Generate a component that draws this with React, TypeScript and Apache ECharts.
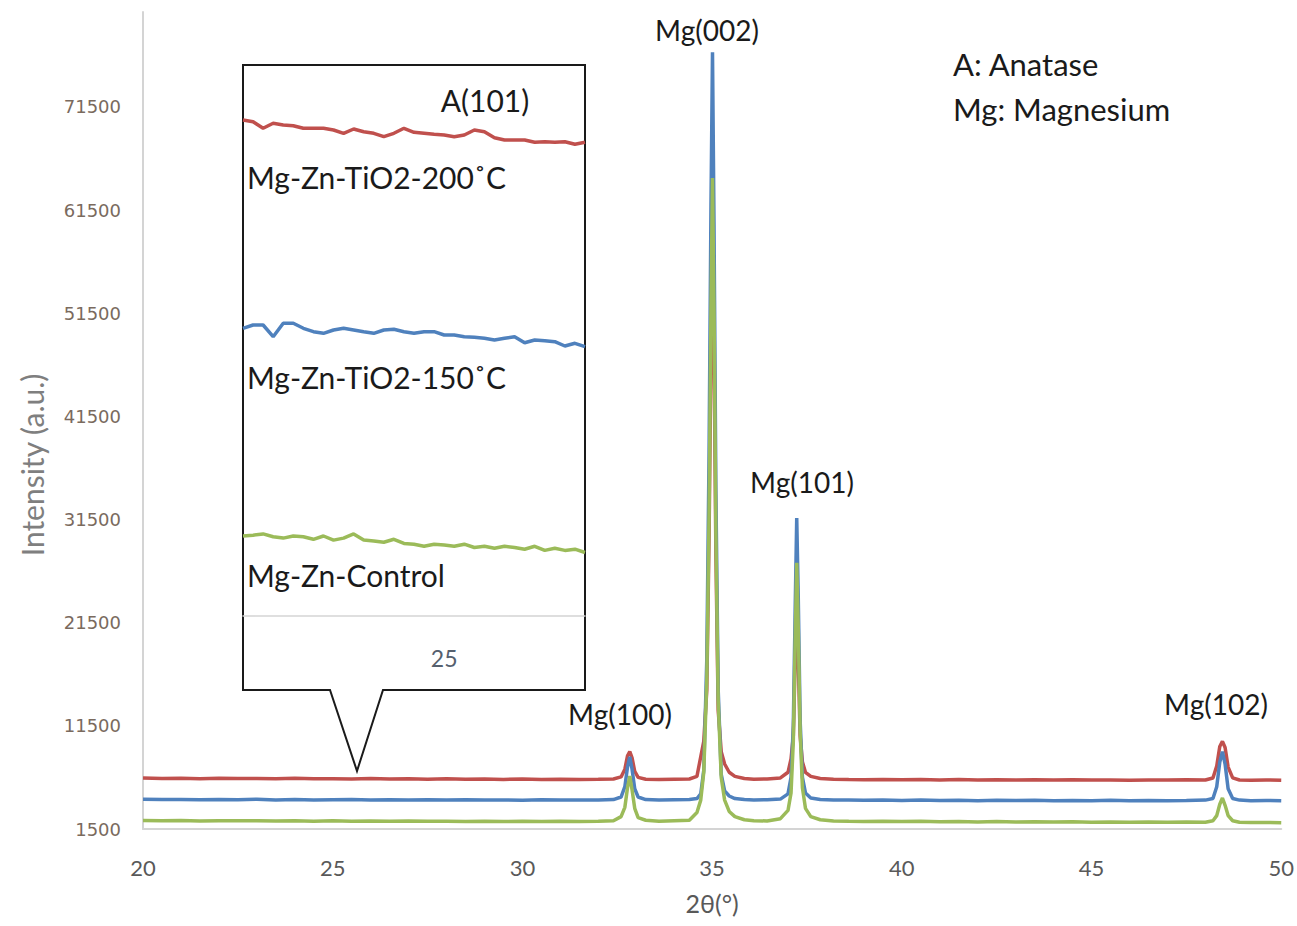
import React, { useEffect, useRef } from "react";
import * as echarts from "echarts";

// ---- main pattern (2θ in degrees, intensity a.u.) ----
const theta = [
  20, 20.5, 21, 21.5, 22, 22.5, 23, 23.5, 24, 24.5, 25, 25.5, 26, 26.5, 27, 27.5, 28, 28.5, 29, 29.5, 30, 30.5, 31, 31.5, 32,
  32.4, 32.6, 32.7, 32.77, 32.83, 32.89, 32.96, 33.05, 33.25,
  33.6, 34.0,
  34.4, 34.6, 34.7, 34.78, 34.86, 34.92, 34.97, 35.01, 35.05, 35.1, 35.16, 35.24, 35.33, 35.45, 35.6, 35.85,
  36.1, 36.45,
  36.8, 37.0, 37.08, 37.14, 37.19, 37.23, 37.27, 37.32, 37.38, 37.46, 37.6, 37.85,
  38.2, 38.6, 39, 39.5, 40, 40.5, 41, 41.5, 42, 42.5, 43, 43.5, 44, 44.5, 45, 45.5, 46, 46.5, 47, 47.5,
  48.0, 48.2, 48.3, 48.38, 48.45, 48.52, 48.6, 48.72, 48.9,
  49.2, 49.6, 50,
];

const red200 = [
  6450, 6400, 6430, 6380, 6420, 6390, 6400, 6370, 6410, 6360, 6380, 6350, 6390, 6340, 6360, 6330, 6370, 6320, 6350, 6310, 6340, 6300, 6330, 6300, 6320,
  6350, 6550, 7300, 8600, 9000, 8400, 7100, 6500, 6320,
  6300, 6330,
  6350, 6600, 8500, 10000, 15000, 30000, 48000, 58000, 48000, 28000, 13000, 9000, 7800, 7000, 6600, 6400,
  6320, 6350,
  6450, 7000, 8300, 10500, 18000, 23000, 18000, 10500, 8000, 7000, 6600, 6400,
  6330, 6300, 6280, 6310, 6270, 6300, 6260, 6290, 6250, 6280, 6240, 6270, 6250, 6280, 6240, 6260, 6230, 6260, 6240, 6270,
  6250, 6450, 7600, 9500, 10000, 9400, 7500, 6450, 6250,
  6230, 6250, 6220,
];

const blue150 = [
  4380, 4350, 4370, 4330, 4360, 4340, 4380, 4320, 4350, 4310, 4340, 4360, 4320, 4340, 4300, 4330, 4310, 4340, 4300, 4320, 4290, 4330, 4300, 4310, 4320,
  4350, 4600, 5600, 7500, 8500, 7300, 5400, 4600, 4350,
  4320, 4340,
  4350, 4450, 4900, 7200, 18000, 38000, 62000, 76800, 60000, 34000, 15000, 6800, 5200, 4700, 4450, 4350,
  4320, 4340,
  4400, 4900, 6500, 11500, 23000, 31650, 24000, 12000, 6500, 5000, 4500, 4350,
  4320, 4300, 4280, 4310, 4270, 4300, 4260, 4290, 4250, 4280, 4260, 4290, 4250, 4270, 4240, 4280, 4250, 4270, 4240, 4260,
  4300, 4450, 5600, 8000, 9000, 7800, 5400, 4450, 4300,
  4250, 4270, 4240,
];

const greenControl = [
  2320, 2300, 2330, 2280, 2310, 2290, 2300, 2270, 2300, 2260, 2290, 2250, 2280, 2240, 2270, 2250, 2260, 2230, 2260, 2220, 2250, 2230, 2240, 2220, 2250,
  2300, 2700, 3600, 5500, 6640, 5300, 3500, 2600, 2350,
  2250, 2300,
  2350, 3100, 4300, 7000, 16000, 32000, 52000, 64600, 52000, 30000, 14000, 6500, 4300, 3200, 2700, 2400,
  2300, 2280,
  2500, 3300, 5000, 10000, 20000, 27300, 21000, 11000, 5500, 3500, 2700, 2400,
  2280, 2250, 2230, 2260, 2220, 2240, 2200, 2230, 2190, 2220, 2180, 2210, 2170, 2200, 2160, 2190, 2150, 2180, 2150, 2170,
  2150, 2300, 2800, 3900, 4500, 3800, 2800, 2300, 2150,
  2120, 2140, 2100,
];

const yTicks = { min: 1500, max: 80700, interval: 10000 };
const xTicks = { min: 20, max: 50, interval: 5 };

// ---- inset: zoom around the anatase A(101) position ----
const insetTheta = [
  24.4, 24.43, 24.46, 24.49, 24.52, 24.55, 24.58, 24.61, 24.64, 24.67, 24.7, 24.73, 24.76, 24.79, 24.82, 24.85, 24.88,
  24.91, 24.94, 24.97, 25.0, 25.03, 25.06, 25.09, 25.12, 25.15, 25.18, 25.21, 25.24, 25.27, 25.3, 25.33, 25.36, 25.39, 25.42,
];
const insetRed = [
  496, 494.3, 487.7, 492.7, 491, 490.3, 487.7, 487.7, 487.7, 486, 482.7, 487, 484.3, 482.7, 479.3, 482.7, 487.7,
  483.7, 482.7, 481.7, 481, 479.3, 481, 486, 484.3, 478.3, 476, 476, 476, 473.7, 474.3, 473.7, 474.3, 471.7, 473.7,
];
const insetBlue = [
  287.7, 291, 291, 279.3, 292.7, 292.7, 287.7, 284.3, 282.7, 286, 287.7, 286, 284.3, 282.7, 286, 286.7, 284.3,
  282.7, 284.3, 284.3, 281, 281, 279.3, 278.7, 277.7, 276, 277.7, 279.3, 273.3, 276, 275.3, 274.3, 270, 272.7, 269.3,
];
const insetGreen = [
  80, 80.8, 82.1, 79.2, 77.9, 80, 79.2, 76.7, 80, 75.9, 77.9, 82.1, 75.9, 75.1, 73.8, 76.7, 72.6,
  71.8, 69.7, 71.8, 70.9, 69.7, 71.8, 68.5, 69.7, 67.7, 69.7, 68.5, 66.8, 69.7, 65.6, 67.7, 65.6, 66.8, 63.5,
];

const seriesNames = ["Mg-Zn-TiO2-200˚C", "Mg-Zn-TiO2-150˚C", "Mg-Zn-Control"];
const colors = ["#C0504D", "#4F81BD", "#9BBB59"];
const peakLabels = ["Mg(100)", "Mg(002)", "Mg(101)", "Mg(102)"];
const legendLines = ["A: Anatase", "Mg: Magnesium"];

const FONT = 'Lato, "Open Sans", "Noto Sans", sans-serif';
const INK = "#1a1a1a";

export default function App() {
  const ref = useRef<HTMLDivElement>(null);

  useEffect(() => {
    document.body.style.margin = "0";
    if (!ref.current) return;
    const chart = echarts.init(ref.current, null, { renderer: "svg" });

    const mainData = [red200, blue150, greenControl];
    const insetData = [insetRed, insetBlue, insetGreen];

    const txt = (text: string, x: number, y: number, size: number, align = "center", extra: any = {}) => ({
      type: "text",
      x,
      y,
      z: 10,
      ...extra,
      style: {
        text,
        fontSize: size,
        fontFamily: FONT,
        fill: INK,
        align,
        verticalAlign: "middle",
        ...(extra.style || {}),
      },
    });

    const option: any = {
      animation: false,
      backgroundColor: "#ffffff",
      grid: [
        { left: 143, right: 15, top: 12, bottom: 97 },
        { left: 243, top: 67, width: 342, height: 549 },
      ],
      xAxis: [
        {
          type: "value",
          gridIndex: 0,
          min: xTicks.min,
          max: xTicks.max,
          interval: xTicks.interval,
          axisLine: { show: true, lineStyle: { color: "#d4d4d4", width: 2 } },
          axisTick: { show: false },
          splitLine: { show: false },
          axisLabel: { fontSize: 22, color: "#595959", fontFamily: FONT, margin: 27 },
          name: "2θ(°)",
          nameLocation: "middle",
          nameGap: 61,
          nameTextStyle: { fontSize: 25, color: "#595959", fontFamily: FONT },
        },
        {
          type: "value",
          gridIndex: 1,
          min: 24.4,
          max: 25.42,
          interval: 0.2,
          z: 4,
          axisLine: { show: true, lineStyle: { color: "#d4d4d4", width: 1.5 } },
          axisTick: { show: false },
          splitLine: { show: false },
          axisLabel: {
            fontSize: 23,
            color: "#55606e",
            fontFamily: FONT,
            margin: 30,
            showMinLabel: false,
            showMaxLabel: false,
            formatter: (v: number) => (Math.abs(v - 25) < 1e-6 ? "25" : ""),
          },
        },
      ],
      yAxis: [
        {
          type: "value",
          gridIndex: 0,
          min: yTicks.min,
          max: yTicks.max,
          interval: yTicks.interval,
          axisLine: { show: true, lineStyle: { color: "#d4d4d4", width: 2 } },
          axisTick: { show: false },
          splitLine: { show: false },
          axisLabel: {
            fontSize: 18,
            color: "#7a6a5e",
            fontFamily: '"DejaVu Sans", sans-serif',
            margin: 22,
            showMaxLabel: false,
            formatter: (v: number) => String(Math.round(v)),
          },
        },
        { type: "value", gridIndex: 1, min: 0, max: 549, show: false },
      ],
      series: [
        ...mainData.map((arr, i) => ({
          type: "line",
          name: seriesNames[i],
          xAxisIndex: 0,
          yAxisIndex: 0,
          data: theta.map((t, k) => [t, arr[k]]),
          showSymbol: false,
          symbol: "none",
          lineStyle: { color: colors[i], width: 3.5 },
          itemStyle: { color: colors[i] },
          z: 2 + i,
        })),
        ...insetData.map((arr, i) => ({
          type: "line",
          name: seriesNames[i] + " (inset)",
          xAxisIndex: 1,
          yAxisIndex: 1,
          data: insetTheta.map((t, k) => [t, arr[k]]),
          showSymbol: false,
          symbol: "none",
          lineStyle: { color: colors[i], width: 3.5 },
          itemStyle: { color: colors[i] },
          z: 5,
        })),
      ],
      graphic: [
        {
          type: "polygon",
          z: 1,
          shape: {
            points: [
              [243, 65],
              [585, 65],
              [585, 690],
              [383, 690],
              [357, 771],
              [330, 690],
              [243, 690],
            ],
          },
          style: { fill: "#ffffff", stroke: INK, lineWidth: 2 },
        },
        txt("Intensity (a.u.)", 32, 465, 30, "center", {
          rotation: Math.PI / 2,
          style: { fill: "#7f7f7f" },
        }),
        txt(peakLabels[0], 620, 714, 28),
        txt(peakLabels[1], 707, 30, 28),
        txt(peakLabels[2], 802, 482, 28),
        txt(peakLabels[3], 1216, 704, 28),
        txt(legendLines[0], 953, 64, 31, "left"),
        txt(legendLines[1], 953, 109, 31, "left"),
        txt("A(101)", 485, 100, 30),
        txt(seriesNames[0], 247, 177, 30, "left"),
        txt(seriesNames[1], 247, 377, 30, "left"),
        txt(seriesNames[2], 247, 575, 30, "left"),
      ],
    };

    chart.setOption(option);
    return () => chart.dispose();
  }, []);

  return <div ref={ref} style={{ width: 1297, height: 926 }} />;
}
